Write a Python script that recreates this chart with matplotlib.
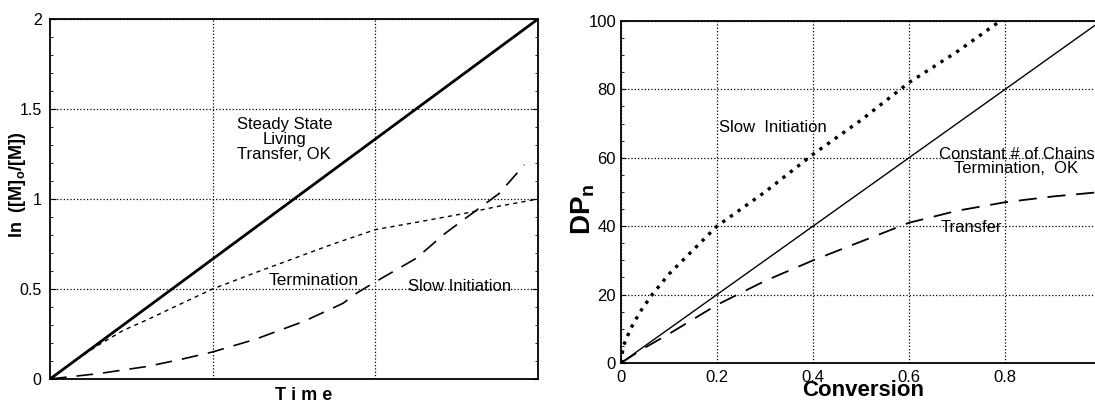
import numpy as np
import matplotlib
matplotlib.use("Agg")
import matplotlib.pyplot as plt
from matplotlib.ticker import MultipleLocator

plt.rcParams['font.family'] = ['Liberation Sans', 'DejaVu Sans']

# left panel: ln([M]o/[M]) vs time (time scaled 0..1)
t_steady = [0.0, 1.0]
y_steady = [0.0, 2.0]

t_term = [0.0, 0.05, 0.1, 0.15, 0.2, 0.27, 0.333, 0.42, 0.5, 0.58, 0.667, 0.75, 0.85, 0.92, 1.0]
y_term = [0.0, 0.10, 0.19, 0.27, 0.33, 0.42, 0.50, 0.59, 0.67, 0.75, 0.83, 0.87, 0.92, 0.96, 1.0]

t_slow = [0.0, 0.05, 0.1, 0.15, 0.2, 0.27, 0.333, 0.42, 0.52, 0.6, 0.63, 0.667, 0.75, 0.81, 0.87, 0.92, 0.972]
y_slow = [0.0, 0.015, 0.03, 0.05, 0.07, 0.11, 0.15, 0.22, 0.32, 0.42, 0.48, 0.54, 0.67, 0.81, 0.93, 1.03, 1.19]

# right panel: DPn vs conversion
conv_const = [0.0, 1.0]
dp_const = [0.0, 100.0]

conv_slow = [0.0, 0.005, 0.02, 0.04, 0.065, 0.1, 0.15, 0.2, 0.3, 0.4, 0.5, 0.6, 0.7, 0.79]
dp_slow = [0.0, 5.0, 10.0, 15.0, 20.0, 26.0, 33.0, 40.0, 50.0, 61.0, 71.0, 82.0, 91.0, 100.0]

conv_transfer = [0.0, 0.05, 0.1, 0.2, 0.3, 0.4, 0.5, 0.6, 0.7, 0.8, 0.9, 1.0]
dp_transfer = [0.0, 4.5, 8.5, 17.0, 24.0, 30.0, 35.5, 41.0, 44.5, 47.0, 48.7, 50.0]

fig = plt.figure(figsize=(10.95, 4.03), dpi=100)

# ---- left plot
ax1 = fig.add_axes([0.0457, 0.0596, 0.4457, 0.8933])
ax1.plot(t_steady, y_steady, color='black', lw=2.0)
ax1.plot(t_term, y_term, color='black', lw=1.0, dashes=(3, 3))
ax1.plot(t_slow, y_slow, color='black', lw=1.2, dashes=(10, 6))
ax1.set_xlim(0, 1)
ax1.set_ylim(0, 2)
ax1.set_xticks([1/3, 2/3])
ax1.set_xticklabels([])
ax1.set_yticks([0, 0.5, 1, 1.5, 2])
ax1.set_yticklabels(['0', '0.5', '1', '1.5', '2'])
ax1.yaxis.set_minor_locator(MultipleLocator(0.1))
ax1.tick_params(axis='x', length=0)
ax1.tick_params(axis='y', which='both', direction='in', left=True, right=True, labelsize=11.5)
ax1.tick_params(axis='y', which='major', length=4, pad=6)
ax1.tick_params(axis='y', which='minor', length=2.5)
ax1.grid(True, linestyle=':', color='black', lw=0.9)
ax1.set_xlabel('T i m e', fontsize=13, fontweight='bold')
ax1.xaxis.set_label_coords(0.52, -0.022)
ax1.set_ylabel(r'ln  ([M]$_\mathregular{o}$/[M])', fontsize=13, fontweight='bold')
ax1.yaxis.set_label_coords(-0.045, 0.54)
ax1.text(0.48, 1.33, 'Steady State\nLiving\nTransfer, OK', ha='center', va='center',
         fontsize=12, linespacing=1.0)
ax1.text(0.54, 0.545, 'Termination', ha='center', va='center', fontsize=12.5)
ax1.text(0.84, 0.515, 'Slow Initiation', ha='center', va='center', fontsize=12)
for s in ax1.spines.values():
    s.set_linewidth(1.3)

# ---- right plot
ax2 = fig.add_axes([0.5671, 0.0993, 0.4329, 0.8486])
ax2.plot(conv_const, dp_const, color='black', lw=1.0)
ax2.plot(conv_slow, dp_slow, color='black', lw=2.4, dashes=(1.0, 1.8))
ax2.plot(conv_transfer, dp_transfer, color='black', lw=1.3, dashes=(10, 6))
ax2.set_xlim(0, 0.9875)
ax2.set_ylim(0, 100)
ax2.set_xticks([0, 0.2, 0.4, 0.6, 0.8])
ax2.set_xticklabels(['0', '0.2', '0.4', '0.6', '0.8'])
ax2.set_yticks([0, 20, 40, 60, 80, 100])
ax2.yaxis.set_minor_locator(MultipleLocator(5))
ax2.tick_params(axis='both', which='both', direction='in', labelsize=12)
ax2.tick_params(axis='y', which='minor', length=2.5)
ax2.tick_params(axis='x', length=0, pad=5)
ax2.grid(True, linestyle=':', color='black', lw=0.9)
ax2.spines['right'].set_visible(False)
for s in ['left', 'top', 'bottom']:
    ax2.spines[s].set_linewidth(1.3)
ax2.set_xlabel('Conversion', fontsize=16, fontweight='bold')
ax2.xaxis.set_label_coords(0.51, -0.05)
ax2.set_ylabel(r'DP$_\mathregular{n}$', fontsize=20, fontweight='bold')
ax2.yaxis.set_label_coords(-0.05, 0.45)
ax2.text(0.205, 69, 'Slow  Initiation', ha='left', va='center', fontsize=12)
ax2.text(0.824, 59, 'Constant # of Chains\nTermination,  OK', ha='center', va='center',
         fontsize=12, linespacing=0.95)
ax2.text(0.731, 39.5, 'Transfer', ha='center', va='center', fontsize=12)

fig.savefig('out.png', dpi=100)
